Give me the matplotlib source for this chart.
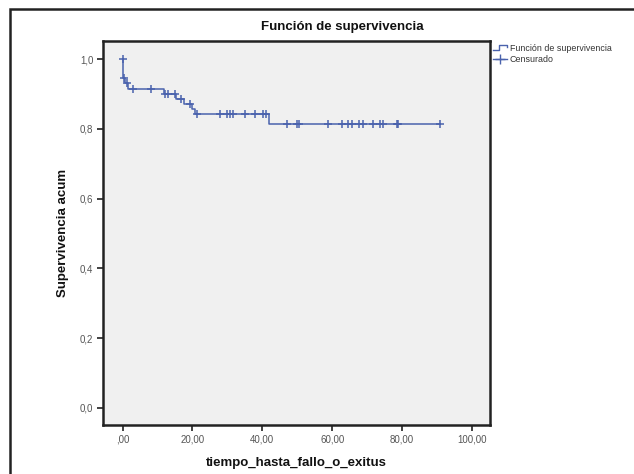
import numpy as np
import matplotlib
matplotlib.use("Agg")
import matplotlib.pyplot as plt
from matplotlib.lines import Line2D
from matplotlib.legend_handler import HandlerBase
from matplotlib.patches import Rectangle

plt.rcParams['font.family'] = ['Liberation Sans', 'DejaVu Sans']

# Kaplan-Meier: tiempos de evento y supervivencia acumulada despues de cada evento
event_t = [0.0, 0.6, 1.6, 11.8, 15.4, 17.6, 20.0, 20.8, 41.9]
surv = [0.946, 0.932, 0.914, 0.900, 0.886, 0.871, 0.858, 0.843, 0.813]
end_t = 90.9

# casos censurados
censor_t = [0.0, 0.5, 1.2, 3.0, 8.2, 12.2, 12.9, 15.0, 16.8, 19.2, 21.2,
            27.9, 30.0, 30.7, 31.6, 35.0, 37.9, 40.2, 41.0, 47.0, 49.8,
            50.6, 58.9, 62.7, 64.6, 65.8, 67.8, 68.7, 71.8, 73.7, 74.7,
            78.7, 79.0, 90.9]

xticks = [0, 20, 40, 60, 80, 100]
xticklabels = [",00", "20,00", "40,00", "60,00", "80,00", "100,00"]
yticks = [0.0, 0.2, 0.4, 0.6, 0.8, 1.0]
yticklabels = ["0,0", "0,2", "0,4", "0,6", "0,8", "1,0"]

blue = "#4a62ad"

# curva escalonada
xs = [0.0] + event_t + [end_t]
ys = [1.0] + surv + [surv[-1]]
levels = np.array([1.0] + surv)
idx = np.searchsorted(event_t, censor_t, side='left')
censor_y = levels[idx]


class StepHandler(HandlerBase):
    def create_artists(self, legend, orig_handle, xdescent, ydescent,
                       width, height, fontsize, trans):
        x0 = -xdescent
        y0 = -ydescent
        px = [x0, x0 + width * 0.45, x0 + width * 0.45, x0 + width, x0 + width]
        py = [y0 + height * 0.1, y0 + height * 0.1, y0 + height * 0.9,
              y0 + height * 0.9, y0 + height * 0.55]
        ln = Line2D(px, py, color=blue, lw=1.0, transform=trans)
        return [ln]


fig = plt.figure(figsize=(6.34, 4.74), dpi=100)
fig.patch.set_facecolor("white")

# marco exterior
fig.patches.append(Rectangle((10 / 634, -0.05), 1.2, 1 - 9 / 474 + 0.05,
                             transform=fig.transFigure, fill=False,
                             edgecolor="#222222", lw=1.8))

ax = fig.add_axes([103 / 634, 1 - 425 / 474, (490 - 103) / 634, (425 - 41) / 474])
ax.set_facecolor("#f0f0f0")

ax.step(xs, ys, where='post', color=blue, lw=1.1)
ax.plot(censor_t, censor_y, linestyle='none', marker='+', markersize=6,
        markeredgewidth=1.1, color=blue)

ax.set_xlim(-5.6, 105.2)
ax.set_ylim(-0.049, 1.052)
ax.set_xticks(xticks)
ax.set_xticklabels(xticklabels)
ax.set_yticks(yticks)
ax.set_yticklabels(yticklabels)
ax.tick_params(axis='both', direction='out', length=4, width=1.3,
               color="#333333", labelsize=7, labelcolor="#555555", pad=3)
for sp in ax.spines.values():
    sp.set_linewidth(1.8)
    sp.set_color("#222222")

ax.set_xlabel("tiempo_hasta_fallo_o_exitus", fontsize=9.5, fontweight='bold',
              labelpad=9, color="#111111")
ax.set_ylabel("Supervivencia acum", fontsize=9.5, fontweight='bold',
              labelpad=8, color="#111111")
fig.text(342 / 634, 1 - 27 / 474, "Función de supervivencia", fontsize=9.5,
         fontweight='bold', ha='center', va='center', color="#111111")

h1 = Line2D([], [], color=blue, lw=1.0)
h2 = Line2D([], [], color=blue, lw=1.0, marker='+', markersize=7,
            markeredgewidth=1.0)
leg = ax.legend([h1, h2], ["Función de supervivencia", "Censurado"],
                loc='upper left', bbox_to_anchor=(1.0, 1.0), frameon=False,
                fontsize=6.4, handlelength=1.6, handletextpad=0.3,
                labelspacing=0.25, borderaxespad=0.2, borderpad=0.1,
                handler_map={h1: StepHandler()})
for t in leg.get_texts():
    t.set_color("#333333")

fig.savefig("out.png", dpi=100)
